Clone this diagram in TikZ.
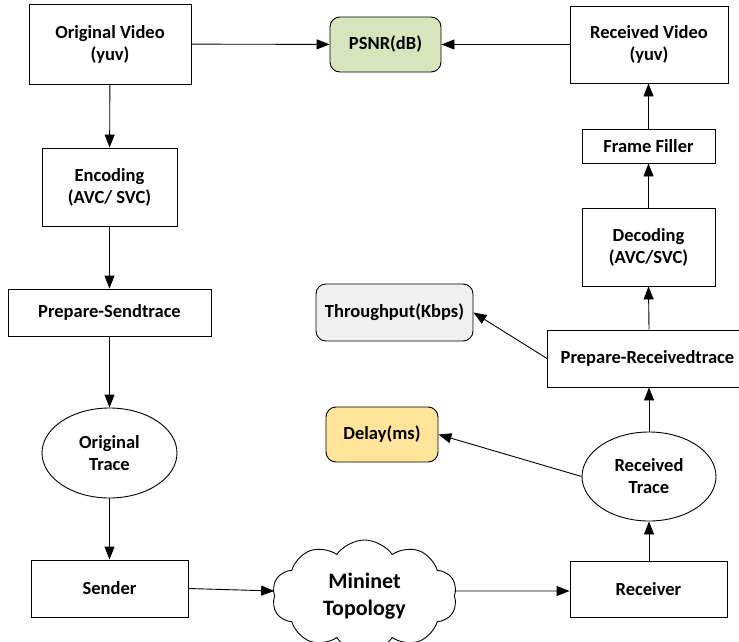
\documentclass[tikz,border=0pt]{standalone}
\usepackage{fontspec}
\setmainfont{Carlito}
\usetikzlibrary{shapes.geometric,shapes.symbols,arrows.meta}
\begin{document}
\begin{tikzpicture}[x=1pt,y=-1pt,
  every node/.style={font=\bfseries\fontsize{18.5}{22}\selectfont, align=center, inner sep=0pt},
  box/.style={draw, line width=0.9pt, rectangle},
  rbox/.style={draw, line width=0.9pt, rectangle, rounded corners=10pt},
  oval/.style={draw, line width=0.9pt, ellipse},
  arr/.style={-{Triangle[length=13pt,width=10pt]}, line width=0.9pt}]
\useasboundingbox (0,0) rectangle (739,642);
% left column
\node[box, minimum width=162pt, minimum height=80pt] (ov) at (110,44) {Original Video\\(yuv)};
\node[box, minimum width=135pt, minimum height=78pt] (enc) at (109.5,187) {Encoding\\(AVC/ SVC)};
\node[box, minimum width=203pt, minimum height=47pt] (pst) at (109.5,312.5) {Prepare-Sendtrace};
\node[oval, minimum width=135pt, minimum height=90pt] (otr) at (109.5,453) {Original\\Trace};
\node[box, minimum width=157pt, minimum height=57pt] (snd) at (109.5,588.5) {Sender};
% middle
\node[rbox, fill={rgb,255:red,216;green,228;blue,188}, minimum width=111pt, minimum height=55pt] (psnr) at (385.5,44.5) {PSNR(dB)};
\node[rbox, fill={rgb,255:red,240;green,240;blue,240}, minimum width=157pt, minimum height=57pt] (thr) at (394.5,312.5) {Throughput(Kbps)};
\node[rbox, fill={rgb,255:red,255;green,228;blue,153}, minimum width=112pt, minimum height=55pt] (dly) at (382,434.5) {Delay(ms)};
\node[draw, line width=0.9pt, cloud, cloud puffs=10, cloud puff arc=110, aspect=1.7, minimum width=185pt, minimum height=112pt, font=\bfseries\fontsize{22}{27}\selectfont] (net) at (364.5,596) {Mininet\\Topology};
% right column
\node[box, minimum width=158pt, minimum height=77pt] (rv) at (649,44.5) {Received Video\\(yuv)};
\node[box, minimum width=133pt, minimum height=34pt] (ff) at (648.5,146) {Frame Filler};
\node[box, minimum width=133pt, minimum height=78pt] (dec) at (648.5,247) {Decoding\\(AVC/SVC)};
\node[box, minimum width=200pt, minimum height=57pt, anchor=west] (prt) at (547,358.5) {Prepare-Receivedtrace};
\node[oval, minimum width=134pt, minimum height=89pt] (rtr) at (649,476.5) {Received\\Trace};
\node[box, minimum width=157pt, minimum height=56pt] (rcv) at (648.5,589) {Receiver};
% connectors
\draw[arr] (ov) -- (psnr);
\draw[arr] (rv) -- (psnr);
\draw[arr] (ov) -- (enc);
\draw[arr] (enc) -- (pst);
\draw[arr] (pst) -- (otr);
\draw[arr] (otr) -- (snd);
\draw[arr] (snd.east) -- ([yshift=5pt]net.west);
\draw[arr] ([yshift=5pt]net.east) -- ([yshift=-2pt]rcv.west);
\draw[arr] (rcv.north -| rtr.south) -- (rtr.south);
\draw[arr] (rtr.north) -- (rtr.north |- prt.south);
\draw[arr] (rtr.north |- prt.north) -- (dec.south);
\draw[arr] (dec) -- (ff);
\draw[arr] (ff.north) -- (ff.north |- rv.south);
\draw[arr] (prt.west) -- (thr.east);
\draw[arr] (rtr.west) -- (dly.east);
\end{tikzpicture}
\end{document}
